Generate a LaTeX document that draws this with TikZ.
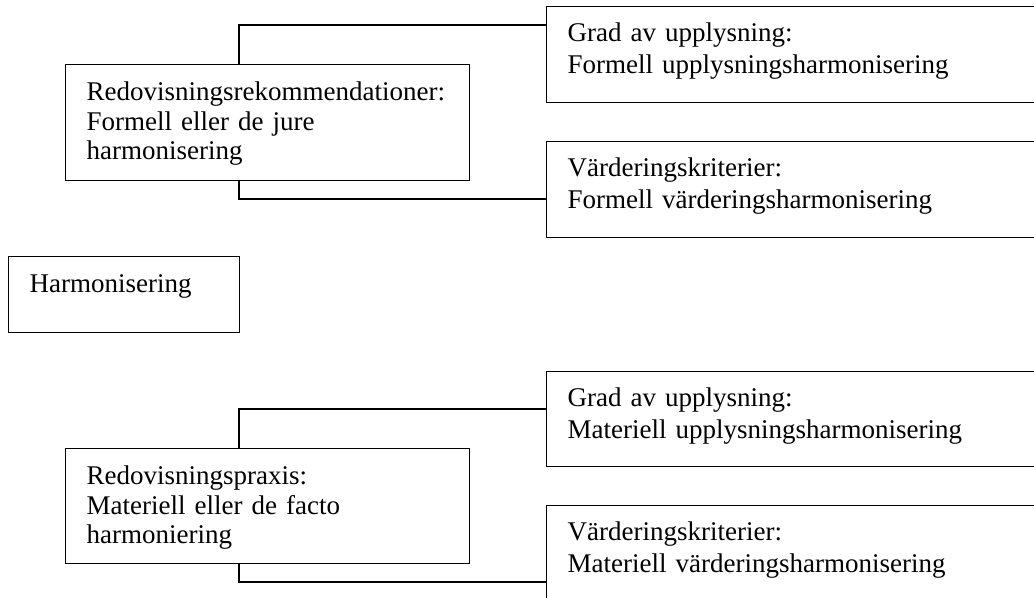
\documentclass[tikz,border=0pt]{standalone}
\usepackage{fontspec}
\setmainfont{Liberation Serif}
\usepackage{tikz}
\tikzstyle{block} = [rectangle, draw, line width=0.7pt, anchor=north west,
    align=left, inner xsep=10.5pt, inner ysep=0pt]
\tikzstyle{leftblock} = [block, text width=181pt, text height=18pt,
    font=\fontsize{13.5pt}{14.75pt}\selectfont]
\tikzstyle{rightblock} = [block, text width=229pt, text height=17.5pt,
    font=\fontsize{13.5pt}{16pt}\selectfont]
\tikzstyle{line} = [draw, line width=0.7pt]

\begin{document}
\begin{tikzpicture}[x=0.5pt, y=-0.5pt]
   \clip (0,0) rectangle (1034,598);
   % Place nodes
    \node [leftblock, text width=94.5pt, text depth=20pt] (harm) at (8,256) {Harmonisering};
    \node [leftblock, text depth=40pt] (dejure) at (65,64) {Redovisningsrekommendationer:\\Formell eller de jure\\harmonisering};
    \node [leftblock, text depth=39.5pt] (defacto) at (65,448) {Redovisningspraxis:\\Materiell eller de facto\\harmoniering};
    \node [rightblock, text depth=30.5pt] (formupp) at (546,6) {Grad av upplysning:\\Formell upplysningsharmonisering};
    \node [rightblock, text depth=30.5pt] (formvar) at (546,141) {V\"arderingskriterier:\\Formell v\"arderingsharmonisering};
    \node [rightblock, text depth=30pt] (matupp) at (546,371) {Grad av upplysning:\\Materiell upplysningsharmonisering};
    \node [rightblock, text depth=42.5pt] (matvar) at (546,505) {V\"arderingskriterier:\\Materiell v\"arderingsharmonisering};
   % Draw edges
    \path [line] ([xshift=87pt]dejure.north west) |- ([yshift=-9.5pt]formupp.north west);
    \path [line] ([xshift=87pt]dejure.south west) |- ([yshift=-29pt]formvar.north west);
    \path [line] ([xshift=87pt]defacto.north west) |- ([yshift=-19pt]matupp.north west);
    \path [line] ([xshift=87pt]defacto.south west) |- ([yshift=-38.5pt]matvar.north west);
\end{tikzpicture}
\end{document}
